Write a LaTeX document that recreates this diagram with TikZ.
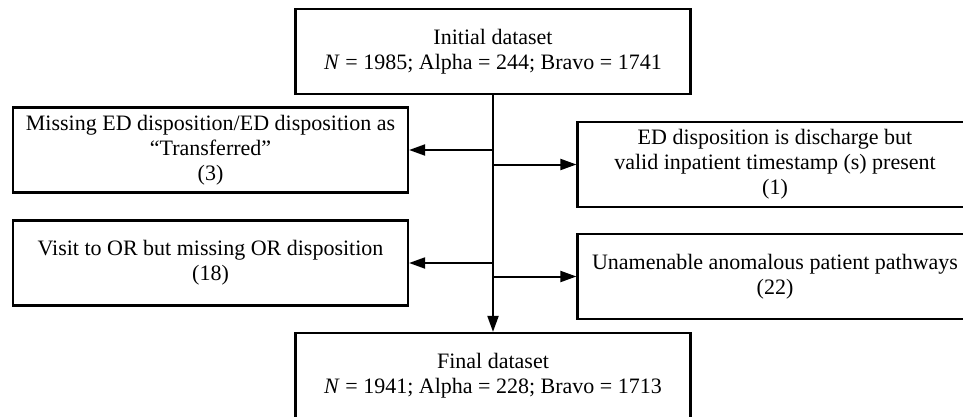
\documentclass[tikz,border=0pt]{standalone}
\usepackage{fontspec}
\setmainfont{Liberation Serif}
\usetikzlibrary{arrows.meta}

\begin{document}
\begin{tikzpicture}[x=0.5pt, y=-0.5pt, >={Triangle[length=8pt,width=5.5pt]},
    font=\fontsize{11}{12.5}\selectfont,
    box/.style={draw, line width=1.1pt, minimum width=197.5pt, minimum height=42.5pt, inner sep=2pt, align=center},
    flow/.style={line width=1pt}]

\useasboundingbox (0,0) rectangle (963,417);

% Start and end of the flow
\node[box] (init)  at (493, 51.5)  {Initial dataset\\\textit{N} = 1985; Alpha = 244; Bravo = 1741};
\node[box] (final) at (493, 375.5) {Final dataset\\\textit{N} = 1941; Alpha = 228; Bravo = 1713};

% Exclusions (left side)
\node[box] (miss) at (210.5, 150) {Missing ED disposition/ED disposition as\\“Transferred”\\(3)};
\node[box] (visit) at (210.5, 263) {Visit to OR but missing OR disposition\\(18)};

% Exclusions (right side)
\node[box] (disch) at (775, 164.5) {ED disposition is discharge but\\valid inpatient timestamp (s) present\\(1)};
\node[box] (anom)  at (775, 276.5) {Unamenable anomalous patient pathways\\(22)};

% Main line
\draw[flow, ->] (init) -- (final);

% Side branches
\draw[flow, ->] (init.south |- miss.east)  -- (miss.east);
\draw[flow, ->] (init.south |- visit.east) -- (visit.east);
\draw[flow, ->] (init.south |- disch.west) -- (disch.west);
\draw[flow, ->] (init.south |- anom.west)  -- (anom.west);

\end{tikzpicture}
\end{document}
